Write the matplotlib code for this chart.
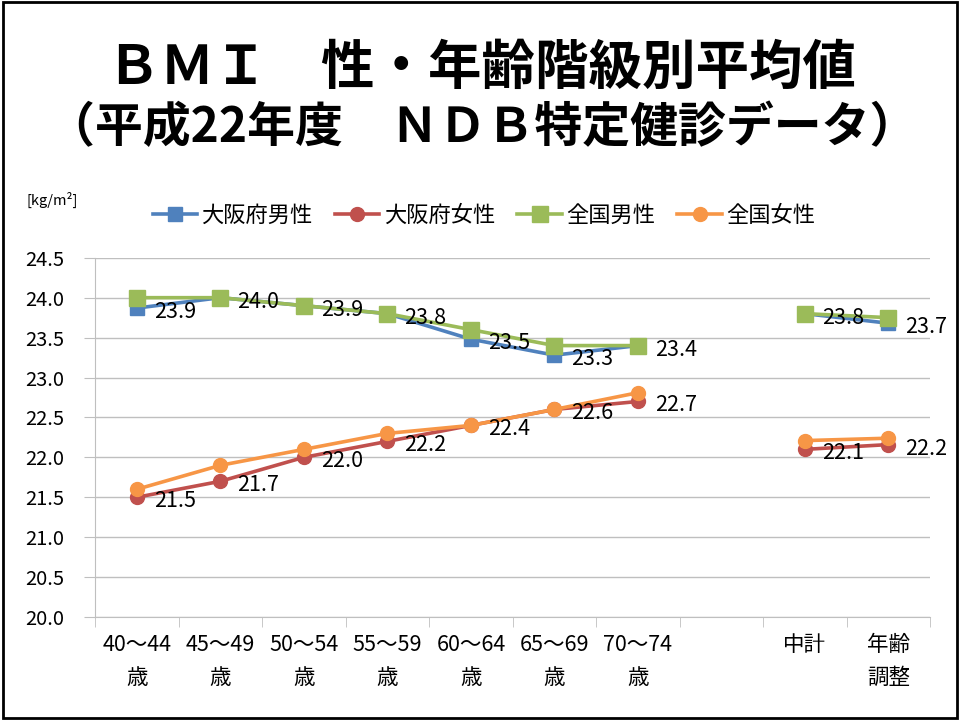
import numpy as np
import matplotlib
matplotlib.use('Agg')
import matplotlib.pyplot as plt
from matplotlib.patches import Rectangle

plt.rcParams['font.family'] = ['Noto Sans CJK JP', 'DejaVu Sans']

# データ (index 7 は空欄)
categories = ['40～44\n歳', '45～49\n歳', '50～54\n歳', '55～59\n歳', '60～64\n歳',
              '65～69\n歳', '70～74\n歳', '', '中計', '年齢\n調整']
osaka_male = [23.87, 24.0, 23.9, 23.8, 23.48, 23.28, 23.4, np.nan, 23.8, 23.68]
osaka_female = [21.5, 21.7, 22.0, 22.2, 22.4, 22.6, 22.7, np.nan, 22.1, 22.16]
national_male = [24.0, 24.0, 23.9, 23.8, 23.6, 23.4, 23.4, np.nan, 23.8, 23.75]
national_female = [21.6, 21.9, 22.1, 22.3, 22.4, 22.6, 22.81, np.nan, 22.21, 22.24]
male_labels = ['23.9', '24.0', '23.9', '23.8', '23.5', '23.3', '23.4', '', '23.8', '23.7']
female_labels = ['21.5', '21.7', '22.0', '22.2', '22.4', '22.6', '22.7', '', '22.1', '22.2']

fig = plt.figure(figsize=(9.6, 7.2), dpi=100)
ax = fig.add_axes([0.099, 0.143, 0.87, 0.499])

x = np.arange(len(categories))

ax.plot(x, osaka_male, color='#4F81BD', lw=2.6, marker='s', ms=10, label='大阪府男性')
ax.plot(x, osaka_female, color='#C0504D', lw=2.6, marker='o', ms=10, label='大阪府女性')
ax.plot(x, national_male, color='#9BBB59', lw=2.6, marker='s', ms=11, label='全国男性')
ax.plot(x, national_female, color='#F79646', lw=2.6, marker='o', ms=10, label='全国女性')

# データラベル（大阪府）
for xi, v, t in zip(x, osaka_male, male_labels):
    if t:
        ax.annotate(t, (xi, v), xytext=(17, -4), textcoords='offset pixels',
                    ha='left', va='center', fontsize=15.5)
for xi, v, t in zip(x, osaka_female, female_labels):
    if t:
        ax.annotate(t, (xi, v), xytext=(17, -4), textcoords='offset pixels',
                    ha='left', va='center', fontsize=15.5)

ax.set_xlim(-0.5, 9.5)
ax.set_ylim(20.0, 24.5)
ax.set_yticks(np.arange(20.0, 24.51, 0.5))
ax.set_yticklabels([f'{v:.1f}' for v in np.arange(20.0, 24.51, 0.5)], fontsize=14.5)
ax.yaxis.grid(True, color='#BFBFBF', lw=1)
ax.set_axisbelow(True)

ax.set_xticks(x)
ax.set_xticklabels(categories, fontsize=15.5, linespacing=1.65, va='top')
ax.tick_params(axis='x', length=0, pad=12)
ax.set_xticks(np.arange(-0.5, 10, 1), minor=True)
ax.tick_params(axis='x', which='minor', length=7, color='#BFBFBF')
ax.tick_params(axis='y', length=8, color='#BFBFBF', pad=14)

for s in ['top', 'right']:
    ax.spines[s].set_visible(False)
for s in ['left', 'bottom']:
    ax.spines[s].set_color('#BFBFBF')

fig.legend(loc='center', bbox_to_anchor=(484 / 960, 1 - 215 / 720), ncol=4, frameon=False,
           fontsize=16, handlelength=2.0, columnspacing=1.0, handletextpad=0.2)

fig.text(27 / 960, 1 - 200 / 720, '[kg/m²]', fontsize=10.5, va='center')

fig.text(0.502, 1 - 68 / 720, 'ＢＭＩ　性・年齢階級別平均値', fontsize=38.5,
         fontweight='bold', ha='center', va='center')
fig.text(0.502, 1 - 128 / 720, '（平成22年度　ＮＤＢ特定健診データ）', fontsize=34.5,
         fontweight='bold', ha='center', va='center')

fig.patches.append(Rectangle((3 / 960, 2 / 720), 954 / 960, 716 / 720,
                             transform=fig.transFigure, fill=False,
                             edgecolor='black', lw=2))

fig.savefig('out.png', dpi=100)
